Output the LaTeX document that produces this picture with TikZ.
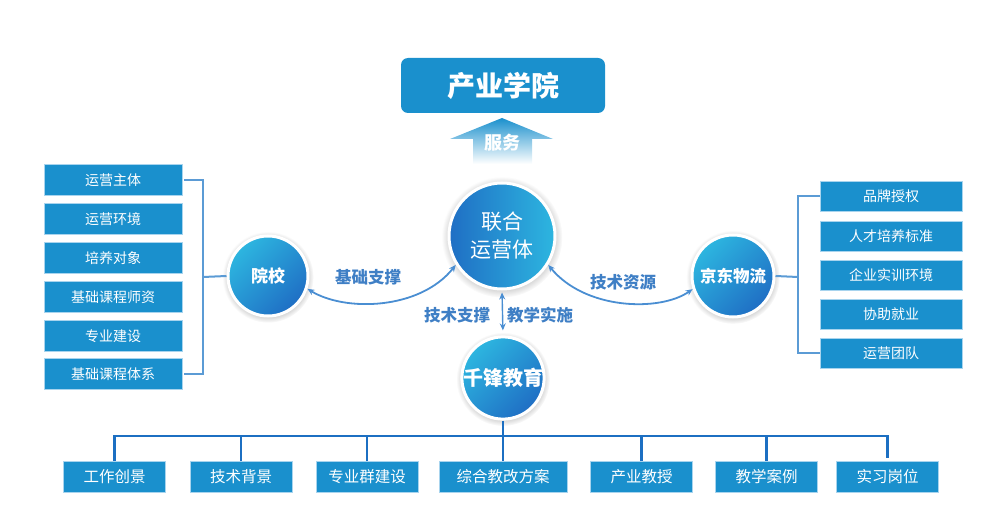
\documentclass[tikz,border=0pt]{standalone}
\usepackage{fontspec}
\newfontfamily\cjk{Noto Sans CJK SC}
\usetikzlibrary{shadows,arrows.meta}
\definecolor{boxblue}{HTML}{1A90CD}
\definecolor{boxedge}{HTML}{A8D4EE}
\definecolor{lab}{HTML}{3F7FC5}
\definecolor{brk}{HTML}{5B9BD5}
\definecolor{bus}{HTML}{1C6FC2}
\definecolor{arr}{HTML}{4A8ED2}
\definecolor{lite}{HTML}{2DB6E0}
\definecolor{dark}{HTML}{1F6EC4}
\begin{document}
\begin{tikzpicture}[x=1pt,y=1pt,
  item/.style={rectangle, fill=boxblue, draw=boxedge, line width=0.6pt, text=white,
    font=\cjk\fontsize{14}{16}\selectfont, minimum width=138pt, minimum height=31pt, inner sep=0pt},
  ritem/.style={item, minimum width=142pt, minimum height=30pt},
  bitem/.style={item, font=\cjk\fontsize{15.5}{17}\selectfont, minimum width=102pt, minimum height=31pt},
  ball/.style={circle, draw=white, line width=3pt, inner sep=0pt, text=white,
    circular drop shadow={shadow xshift=0pt, shadow yshift=-1pt, shadow scale=1.14, fill=black!45, opacity=0.4},
    top color=lite, bottom color=dark, shading angle=45},
  lbl/.style={text=lab, font=\cjk\bfseries\fontsize{16.5}{18}\selectfont},
  brline/.style={draw=brk, line width=2pt},
  busline/.style={draw=bus, line width=2.4pt},
  arrline/.style={draw=arr, line width=1.8pt, {Stealth[length=7pt,width=6pt]}-{Stealth[length=7pt,width=6pt]}}
]
\useasboundingbox (0,0) rectangle (989,-524);

% top box
\node[rectangle, rounded corners=7pt, fill=boxblue, text=white, minimum width=204pt, minimum height=55pt,
  font=\cjk\bfseries\fontsize{28}{30}\selectfont] (cy) at (503,-85.5) {产业学院};

% service arrow
\shade[top color=boxblue, middle color=boxblue!85!white, bottom color=white]
  (450,-139) -- (502,-118) -- (553,-139) -- (532,-139) -- (532,-164) -- (473,-164) -- (473,-139) -- cycle;
\node[text=white, font=\cjk\bfseries\fontsize{18}{20}\selectfont] (fw) at (502,-143) {服务};

% circles
\node[ball, minimum size=106pt, left color=dark, right color=lite, align=center,
  font=\cjk\fontsize{21}{28}\selectfont] (lh) at (502,-236) {联合\\运营体};
\node[ball, minimum size=80pt, font=\cjk\bfseries\fontsize{17}{19}\selectfont, top color=lite, bottom color=dark, shading angle=45] (yx) at (268,-276) {院校};
\node[ball, minimum size=82pt, font=\cjk\bfseries\fontsize{16.5}{19}\selectfont, top color=lite, bottom color=dark, shading angle=45] (jd) at (733,-276) {京东物流};
\node[ball, minimum size=82pt, font=\cjk\bfseries\fontsize{20}{22}\selectfont, top color=lite, bottom color=dark, shading angle=45] (qf) at (503,-378) {千锋教育};

% curved arrows
\draw[arrline] (yx.-18) .. controls (345,-312) and (420,-310) .. (lh.-148);
\draw[arrline] (lh.-32) .. controls (585,-310) and (660,-312) .. (jd.198);
\draw[draw=arr, line width=1.4pt, {Stealth[length=7pt,width=6pt]}-{Stealth[length=7pt,width=6pt]}, shorten <=2pt, shorten >=5pt] (lh.south) -- (qf.north);

\node[lbl] (t1) at (368,-277) {基础支撑};
\node[lbl] (t2) at (623,-282) {技术资源};
\node[lbl] (t3) at (457,-315) {技术支撑};
\node[lbl] (t4) at (540,-315) {教学实施};

% left boxes
\node[item] (l1) at (113,-180) {运营主体};
\node[item] (l2) at (113,-219) {运营环境};
\node[item] (l3) at (113,-258) {培养对象};
\node[item] (l4) at (113,-297) {基础课程师资};
\node[item] (l5) at (113,-336) {专业建设};
\node[item] (l6) at (113,-374) {基础课程体系};
\coordinate (lb1) at (203,-180);
\coordinate (lb2) at (203,-374);
\coordinate (lbm) at (203,-277);
\draw[brline] ([xshift=2pt]l1.east) -- (lb1) -- (lb2) -- ([xshift=2pt]l6.east);
\draw[brline] (lbm) -- (yx.west);

% right boxes
\node[ritem] (r1) at (891,-196) {品牌授权};
\node[ritem] (r2) at (891,-236) {人才培养标准};
\node[ritem] (r3) at (891,-275) {企业实训环境};
\node[ritem] (r4) at (891,-314) {协助就业};
\node[ritem] (r5) at (891,-353) {运营团队};
\coordinate (rb1) at (798,-196);
\coordinate (rb2) at (798,-353);
\coordinate (rbm) at (798,-277);
\draw[brline] (r1.west) -- (rb1) -- (rb2) -- (r5.west);
\draw[brline] (rbm) -- (jd.east);

% bottom boxes
\node[bitem] (b1) at (114.5,-477) {工作创景};
\node[bitem] (b2) at (241,-477) {技术背景};
\node[bitem] (b3) at (367,-477) {专业群建设};
\node[bitem, minimum width=128pt] (b4) at (503,-477) {综合教改方案};
\node[bitem] (b5) at (641.5,-477) {产业教授};
\node[bitem] (b6) at (766.5,-477) {教学案例};
\node[bitem] (b7) at (887.5,-477) {实习岗位};
\coordinate (busy) at (0,-436);
\draw[busline] (b1.north) -- (b1 |- busy) -- (b7 |- busy) -- ([yshift=3pt]b7.north);
\foreach \n in {b2,b3,b4,b5,b6} \draw[busline] (\n.north) -- (\n |- busy);
\draw[busline] (qf.south) -- (qf |- busy);
\end{tikzpicture}
\end{document}
